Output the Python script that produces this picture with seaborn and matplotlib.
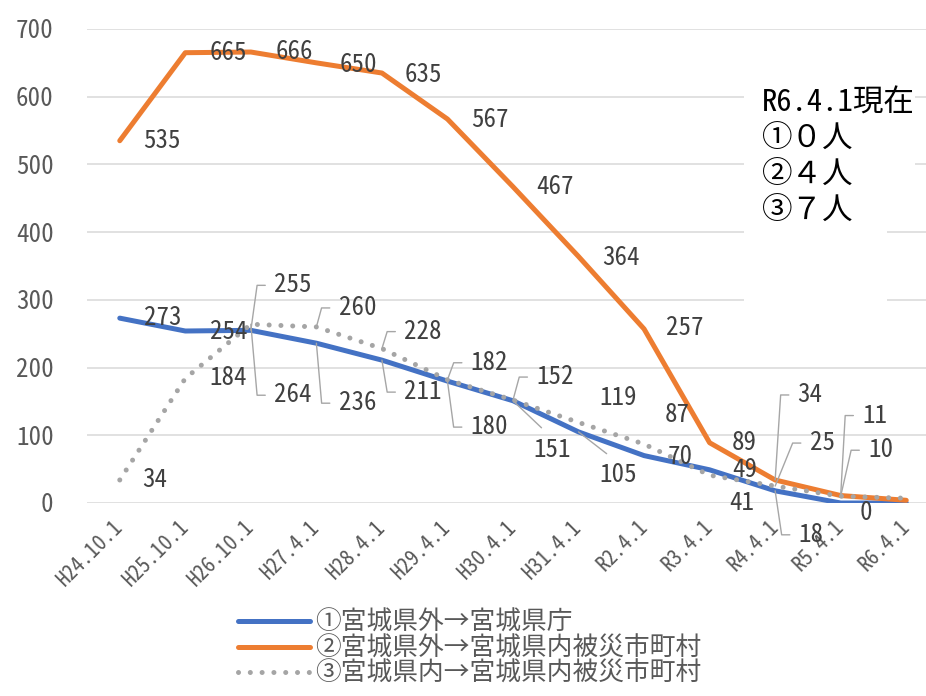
import numpy as np
import pandas as pd
import matplotlib
matplotlib.use("Agg")
import matplotlib.pyplot as plt
from matplotlib.lines import Line2D
from matplotlib.patches import Rectangle
import seaborn as sns

# ---- data -------------------------------------------------------------
dates = ["H24.10.1", "H25.10.1", "H26.10.1", "H27.4.1", "H28.4.1", "H29.4.1",
         "H30.4.1", "H31.4.1", "R2.4.1", "R3.4.1", "R4.4.1", "R5.4.1", "R6.4.1"]
series_names = ["①宮城県外→宮城県庁",
                "②宮城県外→宮城県内被災市町村",
                "③宮城県内→宮城県内被災市町村"]
pref_office = [273, 254, 255, 236, 211, 180, 151, 105, 70, 49, 18, 0, 0]
outside_to_cities = [535, 665, 666, 650, 635, 567, 467, 364, 257, 89, 34, 11, 4]
inside_to_cities = [34, 184, 264, 260, 228, 182, 152, 119, 87, 41, 25, 10, 7]
note_lines = ["R6.4.1現在", "①０人", "②４人", "③７人"]

# ---- styling ----------------------------------------------------------
sns.set_theme(style="white")
plt.rcParams["font.family"] = ["Noto Sans CJK JP", "DejaVu Sans"]
NUM_FONT = ["Noto Sans Mono CJK JP", "Noto Sans CJK JP", "DejaVu Sans"]
CJK_FONT = ["Noto Sans Mono CJK JP", "Noto Sans CJK JP", "DejaVu Sans"]

colors = ["#4472C4", "#ED7D31", "#A5A5A5"]
label_color = "#404040"
tick_color = "#595959"
leader_color = "#A6A6A6"

x = np.arange(len(dates))
df = pd.DataFrame({
    "pos": np.tile(x, 3),
    "value": pref_office + outside_to_cities + inside_to_cities,
    "series": np.repeat(series_names, len(dates)),
})

fig = plt.figure(figsize=(9.26, 6.96), dpi=100)
W, H = 926, 696
ax = fig.add_axes([87 / W, 1 - 503 / H, (939 - 87) / W, (503 - 29) / H])

line_kw = [
    dict(lw=3.6, linestyle="-", solid_capstyle="round"),
    dict(lw=3.6, linestyle="-", solid_capstyle="round"),
    dict(lw=3.6, linestyle=(0, (0.01, 2.35)), dash_capstyle="round"),
]
for name, col, kw in zip(series_names, colors, line_kw):
    sub = df[df["series"] == name]
    sns.lineplot(data=sub, x="pos", y="value", color=col, ax=ax,
                 sort=False, legend=False, zorder=3, **kw)

ax.set_xlim(-0.5, len(dates) - 0.5)
ax.set_ylim(0, 700)
ax.set_yticks(np.arange(0, 701, 100))
ax.set_xticks(x)
ax.set_xticklabels(dates, rotation=45, ha="right", va="center",
                   rotation_mode="anchor", family=NUM_FONT, fontsize=15,
                   color=tick_color)
ax.set_yticklabels([str(v) for v in range(0, 701, 100)], family=NUM_FONT,
                   fontsize=18, color=tick_color)
ax.tick_params(axis="y", length=0, pad=24)
ax.tick_params(axis="x", length=0, pad=15)
ax.set_xlabel("")
ax.set_ylabel("")
ax.grid(axis="y", color="#D9D9D9", lw=1.1, zorder=0)
ax.grid(axis="x", visible=False)
for s in ax.spines.values():
    s.set_visible(False)

# ---- data labels: (dx, dy) offsets in pixels, leader style -------------
# leader: None = plain label, "L" = stub then line, "D" = straight line
label_layout = [
    # ① pref office
    [((43, 0), None), ((43, -1), None), ((42, 45), "L"), ((41, -60), "L"),
     ((41, -32), "L"), ((42, -46), "L"), ((39, -49), "D"), ((40, -43), "D"),
     ((36, -1), None), ((35, 0), None), ((36, -44), "L"), ((25, -10), None),
     None],
    # ② outside -> cities
    [((42, 0), None), ((43, 0), None), ((44, 0), None), ((42, -2), None),
     ((41, -2), None), ((42, -1), None), ((42, 0), None), ((42, -1), None),
     ((41, 1), None), ((35, 0), None), ((35, 85), "L"), ((34, 80), "L"),
     None],
    # ③ inside -> cities
    [((35, 0), None), ((43, 0), None), ((42, -71), "L"), ((41, 19), "L"),
     ((41, 17), "L"), ((42, 17), "L"), ((42, 23), "L"), ((40, 24), None),
     ((33, 29), None), ((32, -28), None), ((47, 43), "L"), ((40, 46), "L"),
     None],
]
all_values = [pref_office, outside_to_cities, inside_to_cities]
for values, layout in zip(all_values, label_layout):
    for i, (v, lay) in enumerate(zip(values, layout)):
        if lay is None:
            continue
        (dx, dy), kind = lay
        kw = dict(xy=(i, v), xytext=(dx, dy), textcoords="offset pixels",
                  ha="center", va="center", fontsize=18, color=label_color,
                  family=NUM_FONT, zorder=5, annotation_clip=False)
        if kind == "L":
            kw["arrowprops"] = dict(
                arrowstyle="-", color=leader_color, lw=1.0,
                connectionstyle="arc,angleA=180,armA=17,angleB=0,armB=0,rad=0",
                relpos=(0, 0.5), shrinkA=4, shrinkB=0)
        elif kind == "D":
            kw["arrowprops"] = dict(
                arrowstyle="-", color=leader_color, lw=1.0,
                connectionstyle="arc3,rad=0", relpos=(0.5, 1),
                shrinkA=7, shrinkB=0)
        ax.annotate(str(v), **kw)

# ---- note box at upper right ---------------------------------------------
fig.patches.append(Rectangle((744 / W, 1 - 340 / H), (887 - 744) / W,
                             (340 - 40) / H, transform=fig.transFigure,
                             facecolor="white", edgecolor="none", zorder=4))
fig.text(762 / W, 1 - 89 / H, "\n".join(note_lines), ha="left", va="top",
         fontsize=22, family=CJK_FONT, color="black", linespacing=1.3,
         zorder=6, bbox=dict(facecolor="white", edgecolor="none", pad=0))

# ---- legend -------------------------------------------------------------
handles = [Line2D([], [], color=c, **kw) for c, kw in zip(colors, line_kw)]
fig.legend(handles, series_names, loc="upper left",
           bbox_to_anchor=(238 / W, 1 - 611 / H), frameon=False,
           prop=dict(family=CJK_FONT, size=18.5), handlelength=2.8,
           handletextpad=0.2, labelspacing=0.05, borderpad=0,
           borderaxespad=0, labelcolor=tick_color)

fig.savefig("out.png", dpi=100)
